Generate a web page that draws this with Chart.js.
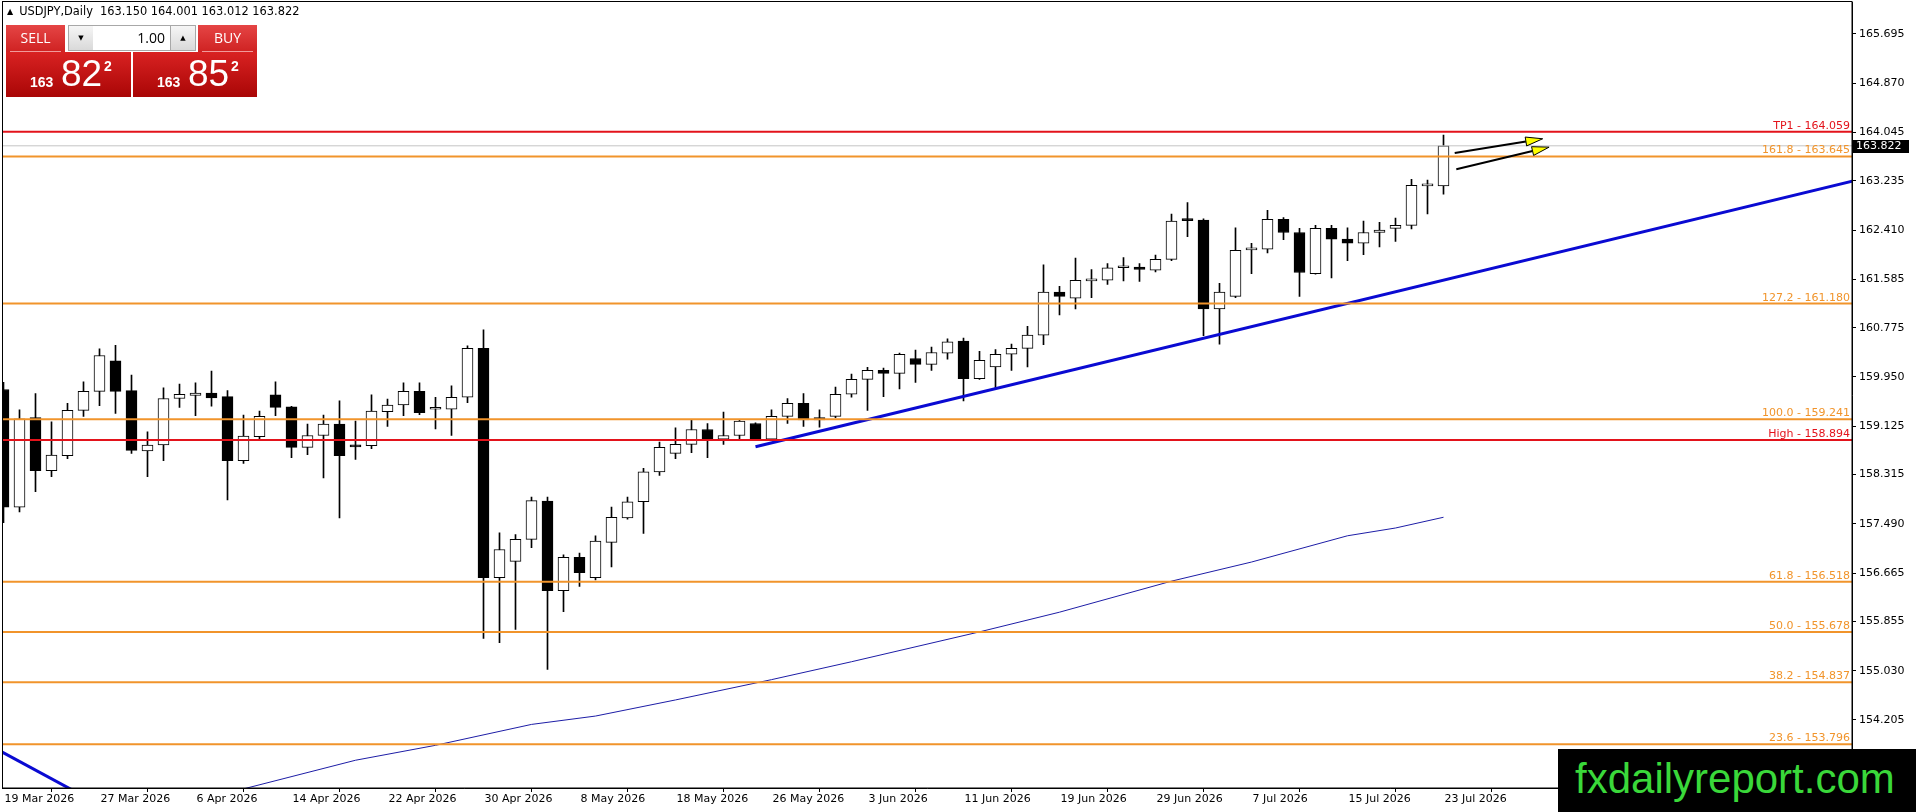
<!DOCTYPE html>
<html>
<head>
<meta charset="utf-8">
<title>USDJPY Daily</title>
<script src="https://cdn.jsdelivr.net/npm/chart.js@4.4.1/dist/chart.umd.min.js"></script>
<style>
  body { margin: 0; background: #fff; width: 1916px; height: 812px; overflow: hidden; position: relative; }
  #chart { position: absolute; left: 0; top: 0; }
  .hdr { position: absolute; left: 7px; top: 4px; font: 11.4px "DejaVu Sans", sans-serif; color: #000; white-space: pre; }
  .hdr .tri { font-size: 8px; position: relative; top: -1px; margin-right: 6px; }
  .box { position: absolute; }
  .btn { top: 25px; width: 59px; height: 27px; background: linear-gradient(#e54545, #cf2222); color: #fff;
         font: 14px "Open Sans", sans-serif; text-align: center; line-height: 26px; }
  .btn .ul { position: absolute; left: 4px; right: 4px; bottom: 0; height: 1px; background: #f19a9a; }
  .spin { top: 25px; width: 24px; height: 24px; border: 1px solid #a8a8a8; background: linear-gradient(#f6f6f6, #d9d9d9);
          font: 7px "DejaVu Sans", sans-serif; text-align: center; line-height: 24px; color: #000; }
  .lot { left: 93px; top: 25px; width: 72px; height: 24px; border-top: 1px solid #a8a8a8; border-bottom: 1px solid #a8a8a8;
         background: #fff; font: 14px "Open Sans", sans-serif; text-align: right; padding-right: 6px; line-height: 24px; }
  .big { top: 52px; height: 45px; background: linear-gradient(#d92222, #a90606); color: #fff; }
  .big span { position: absolute; font-family: "Liberation Sans", Arial, sans-serif; line-height: 1; }
  .big .s { font-size: 14px; font-weight: bold; }
  .big .m { font-size: 37px; }
  .big .e { font-size: 14px; font-weight: bold; }
  .wm { position: absolute; left: 1558px; top: 749px; width: 358px; height: 63px; background: #000; color: #3ad83a;
        font: 42px "Liberation Sans", Arial, sans-serif; line-height: 60px; text-indent: 17px; white-space: nowrap; }
</style>
</head>
<body>
<canvas id="chart" width="1916" height="812"></canvas>

<div class="hdr"><span class="tri">▲</span>USDJPY,Daily  163.150 164.001 163.012 163.822</div>

<div class="box btn" style="left:6px">SELL<div class="ul"></div></div>
<div class="box spin" style="left:68px">▼</div>
<div class="box lot">1.00</div>
<div class="box spin" style="left:170px">▲</div>
<div class="box btn" style="left:198px">BUY<div class="ul"></div></div>
<div class="box big" style="left:6px;width:125px">
  <span class="s" style="left:24px;top:23px">163</span>
  <span class="m" style="left:55px;top:3px">82</span>
  <span class="e" style="left:98px;top:7px">2</span>
</div>
<div class="box big" style="left:133px;width:124px">
  <span class="s" style="left:24px;top:23px">163</span>
  <span class="m" style="left:55px;top:3px">85</span>
  <span class="e" style="left:98px;top:7px">2</span>
</div>

<div class="wm">fxdailyreport.com</div>

<script>
// x axis labels, one every 6 daily bars (19 Mar 2026 .. 23 Jul 2026)
const tickLabels = ['19 Mar 2026', '27 Mar 2026', '6 Apr 2026', '14 Apr 2026', '22 Apr 2026', '30 Apr 2026',
  '8 May 2026', '18 May 2026', '26 May 2026', '3 Jun 2026', '11 Jun 2026', '19 Jun 2026', '29 Jun 2026',
  '7 Jul 2026', '15 Jul 2026', '23 Jul 2026'];
const tickStep = 6;

// daily candles, bar 0 = 19 Mar 2026
const opens = [159.74, 157.77, 159.27, 158.38, 158.63, 159.39, 159.71, 160.22, 159.72, 158.71,
  158.81, 159.59, 159.64, 159.68, 159.62, 158.55, 158.95, 159.65, 159.45, 158.77,
  158.97, 159.16, 158.81, 158.80, 159.37, 159.48, 159.71, 159.41, 159.41, 159.61,
  160.43, 156.59, 156.86, 157.23, 157.87, 156.37, 156.93, 156.59, 157.18, 157.59,
  157.86, 158.36, 158.67, 158.82, 159.07, 158.91, 158.97, 159.17, 158.91, 159.29,
  159.51, 159.27, 159.29, 159.66, 159.91, 160.06, 160.01, 160.26, 160.16, 160.35,
  160.55, 159.92, 160.12, 160.33, 160.43, 160.65, 161.37, 161.27, 161.56, 161.57,
  161.78, 161.79, 161.74, 161.92, 162.58, 162.58, 161.09, 161.30, 162.08, 162.09,
  162.59, 162.37, 161.68, 162.44, 162.26, 162.19, 162.37, 162.44, 162.49, 163.15,
  163.150];
const highs = [159.86, 159.40, 159.67, 159.20, 159.51, 159.87, 160.42, 160.48, 159.98, 159.03,
  159.77, 159.83, 159.85, 160.05, 159.72, 159.31, 159.38, 159.87, 159.46, 159.16,
  159.31, 159.55, 159.21, 159.65, 159.58, 159.85, 159.85, 159.61, 159.80, 160.47,
  160.74, 157.34, 157.31, 157.94, 157.94, 156.97, 157.00, 157.29, 157.77, 157.94,
  158.42, 158.86, 159.10, 159.23, 159.17, 159.36, 159.24, 159.18, 159.40, 159.59,
  159.67, 159.40, 159.78, 160.00, 160.11, 160.10, 160.35, 160.40, 160.45, 160.59,
  160.60, 160.38, 160.41, 160.50, 160.80, 161.83, 161.47, 161.94, 161.75, 161.85,
  161.95, 161.85, 161.99, 162.68, 162.87, 162.60, 161.52, 162.45, 162.19, 162.74,
  162.62, 162.44, 162.49, 162.49, 162.45, 162.56, 162.54, 162.61, 163.26, 163.25,
  164.001];
const lows = [157.51, 157.69, 158.03, 158.28, 158.58, 159.29, 159.47, 159.34, 158.67, 158.28,
  158.55, 159.44, 159.30, 159.46, 157.89, 158.50, 158.91, 159.30, 158.60, 158.65,
  158.26, 157.59, 158.57, 158.75, 159.12, 159.30, 159.32, 159.08, 158.97, 159.52,
  155.57, 155.50, 155.72, 157.09, 155.05, 156.02, 156.44, 156.55, 156.77, 157.57,
  157.33, 158.30, 158.58, 158.68, 158.60, 158.82, 158.91, 158.90, 158.89, 159.17,
  159.12, 159.11, 159.27, 159.61, 159.39, 159.62, 159.75, 159.86, 160.06, 160.25,
  159.55, 159.91, 159.75, 160.06, 160.12, 160.49, 160.99, 161.09, 161.28, 161.50,
  161.56, 161.55, 161.71, 161.90, 162.30, 160.64, 160.50, 161.28, 161.68, 162.03,
  162.25, 161.30, 161.67, 161.61, 161.90, 162.00, 162.13, 162.22, 162.43, 162.68,
  163.012];
const closes = [157.77, 159.25, 158.38, 158.64, 159.39, 159.71, 160.31, 159.71, 158.72, 158.81,
  159.59, 159.66, 159.68, 159.60, 158.55, 158.96, 159.29, 159.44, 158.77, 158.97,
  159.16, 158.63, 158.78, 159.38, 159.48, 159.71, 159.35, 159.42, 159.61, 160.43,
  156.59, 157.06, 157.23, 157.88, 156.37, 156.93, 156.67, 157.20, 157.60, 157.86,
  158.36, 158.77, 158.82, 159.07, 158.91, 158.97, 159.21, 158.91, 159.29, 159.51,
  159.23, 159.23, 159.66, 159.91, 160.06, 160.01, 160.33, 160.16, 160.36, 160.54,
  159.92, 160.23, 160.33, 160.43, 160.65, 161.37, 161.30, 161.57, 161.57, 161.78,
  161.79, 161.75, 161.92, 162.56, 162.57, 161.09, 161.37, 162.07, 162.09, 162.59,
  162.37, 161.70, 162.44, 162.26, 162.19, 162.37, 162.41, 162.49, 163.16, 163.16,
  163.822];

// price axis labels
const yTicks = [165.695, 164.870, 164.045, 163.235, 162.410, 161.585, 160.775, 159.950,
  159.125, 158.315, 157.490, 156.665, 155.855, 155.030, 154.205];

// horizontal levels (target, fibonacci, previous high)
const levelNames = ['TP1', '161.8', '127.2', '100.0', 'High', '61.8', '50.0', '38.2', '23.6'];
const levelPrices = [164.059, 163.645, 161.180, 159.241, 158.894, 156.518, 155.678, 154.837, 153.796];
const bidPrice = 163.822;

// rising trendline and the older line at the bottom left (bar index, price)
const trendBars = [47, 116];
const trendPrices = [158.78, 163.26];
const oldTrendBars = [-1, 5];
const oldTrendPrices = [153.80, 152.93];

// moving average, read at some bars
const maBars = [13, 15, 22, 27, 33, 37, 42, 48, 53, 61, 66, 73, 78, 84, 87, 90];
const maValues = [152.91, 153.05, 153.53, 153.78, 154.13, 154.27, 154.54, 154.88, 155.18, 155.68,
  156.01, 156.53, 156.85, 157.29, 157.42, 157.60];

// the two arrows after the last candle
const arrowFromBars = [90.7, 90.8];
const arrowFromPrices = [163.70, 163.43];
const arrowToBars = [96.2, 96.6];
const arrowToPrices = [163.94, 163.80];

const RED = '#e3131b';
const ORANGE = '#f1942b';

function levelColor(name) {
  return (name == 'TP1' || name == 'High') ? RED : ORANGE;
}

function segment(xs, ys) {
  return xs.map((v, i) => ({ x: v, y: ys[i] }));
}

// keep the plot area where the terminal has it: no extra room for edge labels
function noPadding(s) {
  s.paddingTop = 0;
  s.paddingBottom = 0;
  s.paddingLeft = 0;
  s.paddingRight = 0;
}

var datasets = [];
datasets.push({
  type: 'bar',
  data: highs.map((h, i) => ({ x: i, y: [lows[i], h] })),
  backgroundColor: '#000',
  borderWidth: 0,
  barThickness: 1,
  grouped: false,
  order: 3,
});
datasets.push({
  type: 'bar',
  data: opens.map((o, i) => ({ x: i, y: [o, closes[i]] })),
  backgroundColor: (c) => closes[c.dataIndex] >= opens[c.dataIndex] ? '#fff' : '#000',
  borderColor: '#000',
  borderWidth: 1,
  borderSkipped: false,
  barThickness: 11,
  minBarLength: 2,
  grouped: false,
  order: 2,
});
datasets.push({
  type: 'line',
  data: segment(maBars, maValues),
  borderColor: '#1d1da6',
  borderWidth: 1,
  pointRadius: 0,
  order: 1,
});
datasets.push({
  type: 'line',
  data: segment([-2, 120], [bidPrice, bidPrice]),
  borderColor: '#c4c4c4',
  borderWidth: 1,
  pointRadius: 0,
  order: 1,
});
levelNames.forEach(function (name, i) {
  datasets.push({
    type: 'line',
    data: segment([-2, 120], [levelPrices[i], levelPrices[i]]),
    borderColor: levelColor(name),
    borderWidth: 2,
    pointRadius: 0,
    order: 0,
  });
});
[[trendBars, trendPrices], [oldTrendBars, oldTrendPrices]].forEach(function (t) {
  datasets.push({
    type: 'line',
    data: segment(t[0], t[1]),
    borderColor: '#0a0ad2',
    borderWidth: 3,
    pointRadius: 0,
    order: 0,
  });
});

var overlay = {
  id: 'overlay',
  afterDatasetsDraw(chart) {
    const ctx = chart.ctx;
    const a = chart.chartArea;
    const x = chart.scales.x;
    const y = chart.scales.y;
    ctx.save();
    ctx.font = '11px "DejaVu Sans"';
    ctx.textAlign = 'right';
    ctx.textBaseline = 'alphabetic';
    levelNames.forEach(function (name, i) {
      ctx.fillStyle = levelColor(name);
      ctx.fillText(name + ' - ' + levelPrices[i].toFixed(3), a.right - 2, y.getPixelForValue(levelPrices[i]) - 3);
    });

    for (var k = 0; k < arrowFromBars.length; k++) {
      var x1 = x.getPixelForValue(arrowFromBars[k]);
      var y1 = y.getPixelForValue(arrowFromPrices[k]);
      var x2 = x.getPixelForValue(arrowToBars[k]);
      var y2 = y.getPixelForValue(arrowToPrices[k]);
      var ang = Math.atan2(y2 - y1, x2 - x1);
      var len = 17, half = 4.5;
      var bx = x2 - len * Math.cos(ang), by = y2 - len * Math.sin(ang);
      ctx.strokeStyle = '#000';
      ctx.lineWidth = 2;
      ctx.beginPath();
      ctx.moveTo(x1, y1);
      ctx.lineTo(bx, by);
      ctx.stroke();
      ctx.beginPath();
      ctx.moveTo(x2, y2);
      ctx.lineTo(bx + half * Math.sin(ang), by - half * Math.cos(ang));
      ctx.lineTo(bx - half * Math.sin(ang), by + half * Math.cos(ang));
      ctx.closePath();
      ctx.fillStyle = '#ffff00';
      ctx.fill();
      ctx.lineWidth = 1;
      ctx.stroke();
    }
    ctx.restore();
  },
  afterDraw(chart) {
    const ctx = chart.ctx;
    const a = chart.chartArea;
    const y = chart.scales.y;
    ctx.save();
    ctx.strokeStyle = '#000';
    ctx.lineWidth = 1;
    ctx.strokeRect(a.left, 1.5, a.right - a.left, a.bottom - 1.5);
    var py = Math.round(y.getPixelForValue(bidPrice));
    ctx.fillStyle = '#000';
    ctx.fillRect(a.right + 1, py - 6, 56, 13);
    ctx.fillStyle = '#fff';
    ctx.font = '11px "DejaVu Sans"';
    ctx.textAlign = 'left';
    ctx.textBaseline = 'middle';
    ctx.fillText(bidPrice.toFixed(3), a.right + 4, py + 0.5);
    ctx.restore();
  }
};

var config = {
  data: { datasets: datasets },
  options: {
    responsive: false,
    devicePixelRatio: 1,
    animation: false,
    layout: { padding: { left: 2.5, top: 2, right: 0, bottom: 0 } },
    plugins: { legend: { display: false }, tooltip: { enabled: false } },
    scales: {
      x: {
        type: 'linear',
        offset: false,
        min: -0.0625,
        max: 115.53125,
        afterFit: (s) => { s.height = 24; noPadding(s); },
        afterBuildTicks: (s) => { s.ticks = tickLabels.map((_, k) => ({ value: k * tickStep })); },
        ticks: {
          autoSkip: false,
          maxRotation: 0,
          minRotation: 0,
          align: 'start',
          labelOffset: 1,
          padding: 1,
          color: '#000',
          font: { family: 'DejaVu Sans', size: 11 },
          callback: (v, i) => tickLabels[i],
        },
        grid: { drawOnChartArea: false, drawTicks: true, tickLength: 4, color: '#000' },
        border: { display: true, color: '#000' },
      },
      y: {
        type: 'linear',
        position: 'right',
        min: 153.065,
        max: 166.231,
        afterFit: (s) => { s.width = 64; noPadding(s); },
        afterBuildTicks: (s) => { s.ticks = yTicks.map((v) => ({ value: v })); },
        ticks: {
          padding: 3,
          color: '#000',
          font: { family: 'DejaVu Sans', size: 11 },
          callback: (v) => Number(v).toFixed(3),
        },
        grid: { drawOnChartArea: false, drawTicks: true, tickLength: 4, color: '#000' },
        border: { display: true, color: '#000' },
      },
    },
  },
  plugins: [overlay],
};

new Chart(document.getElementById('chart').getContext('2d'), config);
</script>
</body>
</html>
